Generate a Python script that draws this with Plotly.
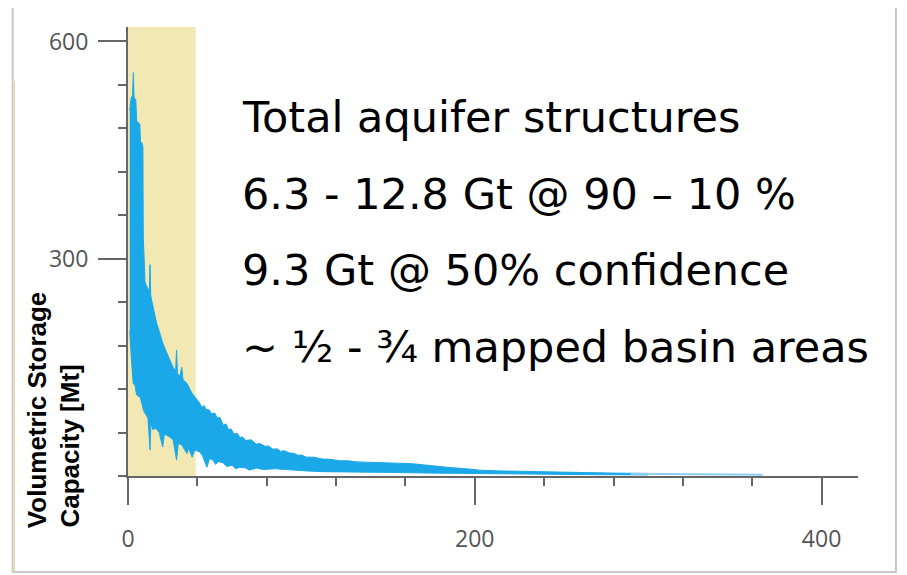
import plotly.graph_objects as go

# ---- data ----
upper_x = [1.0, 1.8, 2.6, 3.1, 3.5, 4.5, 5.0, 6.0, 6.8, 7.2, 8.0, 8.6, 8.8, 9.3, 9.8,
           10.8, 11.5, 12.3, 12.7, 13.1, 13.6, 15.0, 16.5, 18.0, 20.0, 22.0, 24.0, 26.0,
           27.5, 28.0, 28.5, 30.0, 31.0, 31.7, 34.0, 36.7, 39.0, 41.5, 42.5, 44.0, 45.0,
           47.0, 48.0, 50.0, 51.5, 53.0, 55.0, 56.5, 58.0, 59.5, 61.0, 63.0, 64.5, 66.0,
           68.0, 71.0, 74.0, 76.0, 79.0, 81.0, 83.6, 86.0, 88.0, 90.0, 93.0, 96.0, 98.0,
           100.0, 103.0, 107.0, 112.0, 117.0, 122.0, 127.0, 132.0, 145.0, 151.0, 164.0,
           175.0, 184.0, 195.0, 203.0, 215.0, 232.0, 245.0, 260.0, 280.0, 300.0]
upper_y = [505, 522, 525, 557, 522, 520, 490, 488, 486, 462, 460, 455, 330, 300, 268,
           262, 258, 255, 292, 250, 243, 228, 211, 200, 184, 172, 160, 150,
           145, 174, 142, 138, 150, 133, 128, 115, 108, 100, 95, 97, 92,
           91, 86, 87, 80, 81, 70, 72, 64, 65, 58, 59, 53, 54,
           49, 50, 44, 45, 41, 41.5, 37, 37.5, 34, 35, 32, 31, 28.5,
           29, 26, 26, 23.5, 23, 21, 21, 19.5, 19, 18, 17,
           14, 12, 10, 8, 7, 6, 5.5, 4.5, 4, 3.5]

lower_x = [1.0, 2.0, 3.0, 4.0, 5.0, 6.0, 7.0, 8.0, 9.0, 10.0, 11.5, 12.7, 13.2, 14.4,
           16.0, 18.0, 20.0, 21.0, 23.0, 24.0, 26.0, 28.0, 29.0, 31.0, 34.0, 35.0, 37.0,
           38.5, 41.5, 43.0, 45.5, 47.0, 49.0, 50.5, 52.0, 55.0, 57.0, 60.0, 62.0, 64.5,
           68.0, 70.0, 74.0, 78.0, 85.0, 93.0, 103.0, 112.0, 132.0, 151.0, 175.0, 203.0,
           260.0, 300.0]
lower_y = [200, 160, 128, 125, 112, 110, 109, 100, 90, 85, 80, 36, 72, 64,
           66, 60, 40, 58, 55, 54, 50, 22, 45, 43, 31, 38, 26,
           36, 33, 28, 12, 24, 22, 16, 20, 18, 13, 15, 10, 12,
           11, 8, 11, 9, 10, 9, 7, 6, 5, 5, 4, 3,
           2, 1.5]

tail_x = [290, 310, 330, 350, 366]
tail_y = [3.2, 2.8, 2.4, 2.0, 1.6]

band_x = [0, 39]
band_y = [0, 620]

x_tickvals = [0, 200, 400]
y_tickvals = [300, 600]

text_lines = ["Total aquifer structures",
              "6.3 - 12.8 Gt @ 90 \u2013 10 %",
              "9.3 Gt @ 50% confidence",
              "~ \u00bd - \u00be mapped basin areas"]
ytitle_lines = ["Volumetric Storage", "Capacity [Mt]"]

# ---- figure ----
BLUE = "#1ba8e8"
AX = "#666666"

fig = go.Figure()
fig.add_trace(go.Scatter(
    x=upper_x + lower_x[::-1], y=upper_y + lower_y[::-1],
    mode="lines", fill="toself", fillcolor=BLUE,
    line=dict(color=BLUE, width=1), hoverinfo="skip", showlegend=False))
fig.add_trace(go.Scatter(
    x=tail_x, y=tail_y, mode="lines",
    line=dict(color="#8ccff2", width=2), hoverinfo="skip", showlegend=False))

fig.add_shape(type="rect", xref="x", yref="y", x0=band_x[0], x1=band_x[1],
              y0=band_y[0], y1=band_y[1], fillcolor="#f2e8b3", line=dict(width=0),
              layer="below")

# outer frame
fig.add_shape(type="rect", xref="paper", yref="paper", x0=-0.158, x1=1.052,
              y0=-0.214, y1=1.051, line=dict(color="#c8c8c8", width=2),
              fillcolor="rgba(0,0,0,0)", layer="below")
fig.add_shape(type="line", xref="paper", yref="paper", x0=-0.156, x1=-0.156,
              y0=-0.212, y1=0.88, line=dict(color="#e6dcae", width=2), layer="below")

line_y = [0.7996, 0.628, 0.4588, 0.2873]
for t, yy in zip(text_lines, line_y):
    fig.add_annotation(text=t, xref="paper", yref="paper", x=0.1534, y=yy,
                       xanchor="left", yanchor="middle", showarrow=False,
                       font=dict(family="DejaVu Sans", size=43, color="#000000"))

for t, xx in zip(ytitle_lines, [-0.1245, -0.0808]):
    fig.add_annotation(text="<b>" + t + "</b>", xref="paper", yref="paper",
                       x=xx, y=-0.1203, xanchor="center", yanchor="bottom",
                       textangle=-90, showarrow=False,
                       font=dict(family="Liberation Sans", size=26, color="#000000"))

fig.update_xaxes(range=[0, 421], tickmode="array", tickvals=x_tickvals,
                 ticks="outside", ticklen=27, tickwidth=2, tickcolor=AX,
                 minor=dict(ticks="outside", ticklen=8, tickwidth=2, tickcolor=AX,
                            dtick=40, tick0=0, showgrid=False),
                 showline=True, linecolor=AX, linewidth=2, showgrid=False,
                 zeroline=False, ticklabelstandoff=14,
                 tickfont=dict(family="Open Sans", size=23, color="#555555"))
fig.update_yaxes(range=[0, 620], tickmode="array", tickvals=y_tickvals,
                 ticks="outside", ticklen=28, tickwidth=2, tickcolor=AX,
                 minor=dict(ticks="outside", ticklen=8, tickwidth=2, tickcolor=AX,
                            dtick=60, tick0=0, showgrid=False),
                 showline=True, linecolor=AX, linewidth=2, showgrid=False,
                 zeroline=False, ticklabelstandoff=5,
                 tickfont=dict(family="Open Sans", size=23, color="#555555"))

# page body has an 8px default margin, so size/margins are reduced by 8px
fig.update_layout(width=899, height=567, margin=dict(l=120, r=49, t=19, b=99),
                  paper_bgcolor="white", plot_bgcolor="white", showlegend=False)

fig.write_html("out.html")
